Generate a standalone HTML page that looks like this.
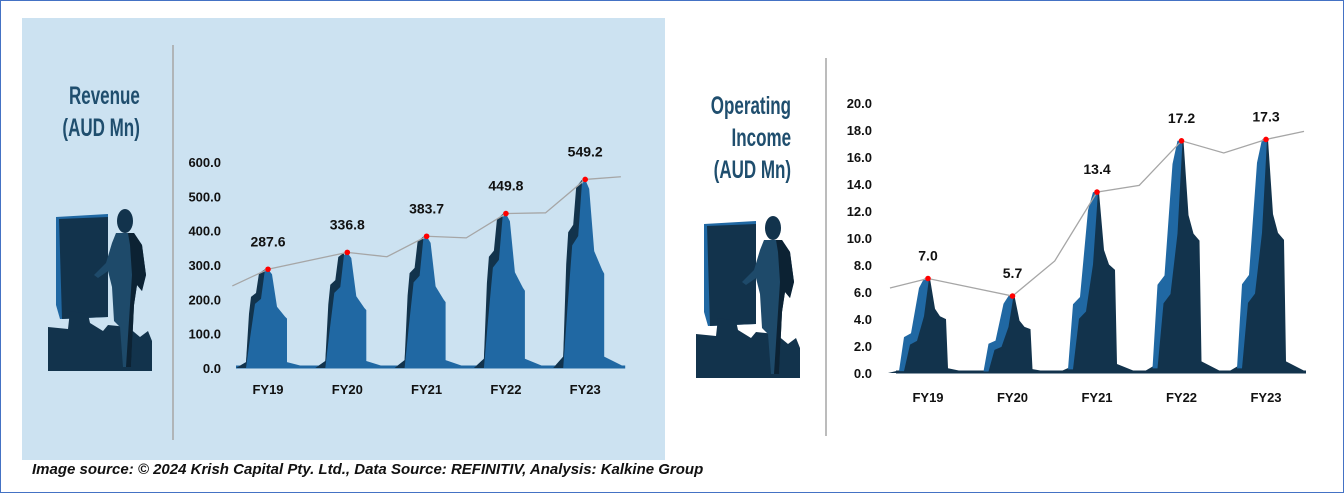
<!DOCTYPE html>
<html><head><meta charset="utf-8">
<style>
html,body{margin:0;padding:0;background:#fff;}
#root{position:relative;width:1344px;height:493px;overflow:hidden;font-family:"Liberation Sans",sans-serif;}
.title{position:absolute;color:#1f4e6e;font-family:"Liberation Sans Narrow","Liberation Sans",sans-serif;font-weight:bold;font-size:25px;line-height:32px;transform:scaleX(0.68);transform-origin:right top;text-align:right;white-space:nowrap;}
#footer{position:absolute;left:32px;top:461px;font-size:15px;font-weight:bold;font-style:italic;color:#111;}
</style></head>
<body>
<div id="root">
<svg width="1344" height="493" style="position:absolute;left:0;top:0">
  <rect x="0.5" y="0.5" width="1343" height="492" fill="#fff" stroke="#4472c4"/>
  <rect x="22" y="18" width="643" height="442" fill="#cce2f1"/>
  <line x1="173" y1="45" x2="173" y2="440" stroke="#a6a6a6" stroke-width="1.5"/>
  <line x1="826" y1="58" x2="826" y2="436" stroke="#a6a6a6" stroke-width="1.5"/>
  <g id="sil1" transform="translate(48,205)"></g>
  <g id="sil2" transform="translate(696,212)"></g>
  <g id="chart1"></g>
  <g id="chart2"></g>
</svg>
<div class="title" style="right:1204px;top:80px;">Revenue<br>(AUD Mn)</div>
<div class="title" style="right:553px;top:90px;">Operating<br>Income<br>(AUD Mn)</div>
<div id="footer">Image source: © 2024 Krish Capital Pty. Ltd., Data Source: REFINITIV, Analysis: Kalkine Group</div>
</div>
<script>
const categories = ["FY19","FY20","FY21","FY22","FY23"];
const revenueValues = [287.6, 336.8, 383.7, 449.8, 549.2];
const revenueTicks = ["0.0","100.0","200.0","300.0","400.0","500.0","600.0"];
const revenueTrendStart = 239;
const revenueTrendMid = [324, 379, 452];
const revenueTrendEnd = 557;
const incomeValues = [7.0, 5.7, 13.4, 17.2, 17.3];
const incomeTicks = ["0.0","2.0","4.0","6.0","8.0","10.0","12.0","14.0","16.0","18.0","20.0"];
const incomeTrendStart = 6.3;
const incomeTrendMid = [8.3, 13.9, 16.3];
const incomeTrendEnd = 17.9;

const NS = "http://www.w3.org/2000/svg";
function mk(parent, tag, attrs){
  const e = document.createElementNS(NS, tag);
  for (const k in attrs) e.setAttribute(k, attrs[k]);
  parent.appendChild(e);
  return e;
}
const LIGHT = "#2068a3", DARK = "#12334c";

function drawChart(g, o){
  const vals = o.values, ticks = o.ticks;
  const maxV = parseFloat(ticks[ticks.length-1]);
  const y = v => o.y0 - (v / maxV) * (o.y0 - o.yTop);
  const x = i => o.x0 + i * o.step;
  ticks.forEach(t => {
    const tl = mk(g, "text", {x: o.tickX, y: y(parseFloat(t)) + 5, "text-anchor": "end", "font-size": 13, "font-weight": "bold", fill: "#111"});
    
    
    tl.textContent = t;
  });
  const baseLine = mk(g, "line", {x1: x(0) - 32, y1: o.y0 - 1, x2: x(vals.length-1) + 40, y2: o.y0 - 1, stroke: o.baseFill, "stroke-width": 3});
  
  
  vals.forEach((v, i) => {
    const c = x(i);
    const pts = s => s.map(p => (c + p[0]) + "," + y(v * p[1])).join(" ");
    const back = mk(g, "polygon", {points: pts(o.backShape), fill: o.backFill});
    
    
    const front = mk(g, "polygon", {points: pts(o.frontShape), fill: o.frontFill});
    
    
    const xl = mk(g, "text", {x: c, y: o.catY, "text-anchor": "middle", "font-size": 13, "font-weight": "bold", fill: "#111"});
    
    
    xl.textContent = categories[i];
  });
  // trend line: start, dots, mid points after FY20, FY21, FY22
  const tp = [[x(0) - o.step * 0.45, y(o.trendStart)]];
  vals.forEach((v, i) => {
    tp.push([x(i), y(v)]);
    const m = i - 1;
    if (m >= 0 && m < o.trendMid.length) tp.push([x(i) + o.step * 0.5, y(o.trendMid[m])]);
  });
  tp.push([x(vals.length-1) + o.step * 0.45, y(o.trendEnd)]);
  const tl = mk(g, "polyline", {points: tp.map(p => p.join(",")).join(" "), fill: "none", stroke: "#a6a6a6", "stroke-width": 1.3});
  
  
  vals.forEach((v, i) => {
    const d = mk(g, "circle", {cx: x(i), cy: y(v), r: 2.8, fill: "#ff0000"});
    
    
    const lb = mk(g, "text", {x: x(i), y: y(v) - o.labelGap, "text-anchor": "middle", "font-size": 14, "font-weight": "bold", fill: "#111"});
    
    
    lb.textContent = v.toFixed(1);
  });
}

drawChart(document.getElementById("chart1"), {
  values: revenueValues, ticks: revenueTicks, trendStart: revenueTrendStart, trendMid: revenueTrendMid, trendEnd: revenueTrendEnd,
  x0: 268, step: 79.3, y0: 368, yTop: 162, tickX: 221, catY: 394, labelGap: 23,
  backFill: LIGHT, frontFill: DARK, baseFill: LIGHT,
  backShape: [[-32,0],[-22,0.06],[-19,0.4],[-14,0.65],[-7,0.95],[0,1],[4,0.95],[9,0.62],[17,0.52],[19,0.5],[19,0.06],[38,0.01],[38,0]],
  frontShape: [[-32,0],[-22,0.06],[-19,0.55],[-17,0.72],[-12,0.76],[-9,0.96],[-3,1],[-7,0.7],[-13,0.65],[-18,0.3],[-22,0]]
});
drawChart(document.getElementById("chart2"), {
  values: incomeValues, ticks: incomeTicks, trendStart: incomeTrendStart, trendMid: incomeTrendMid, trendEnd: incomeTrendEnd,
  x0: 928, step: 84.5, y0: 373, yTop: 103, tickX: 872, catY: 402, labelGap: 18,
  backFill: DARK, frontFill: LIGHT, baseFill: DARK,
  backShape: [[-40,0],[-28,0.03],[-23,0.3],[-16,0.36],[-8,0.6],[-4,0.95],[2,1],[7,0.68],[12,0.6],[18,0.57],[20,0.05],[38,0.01],[38,0]],
  frontShape: [[-29,0.02],[-24,0.38],[-17,0.42],[-9,0.9],[-4,1],[1,1],[-4,0.6],[-11,0.34],[-18,0.3],[-24,0.02]]
});

function drawSilhouette(g){
  const p1 = mk(g, "polygon", {points: "8,12 60,9 60,112 12,114 8,100", fill: LIGHT});
   
  const p2 = mk(g, "polygon", {points: "11,14 60,12 60,112 14,114", fill: DARK});
   
  const p3 = mk(g, "polygon", {points: "0,122 20,124 22,106 40,109 42,118 55,126 60,120 80,122 92,132 100,126 104,136 104,166 0,166", fill: DARK});
   
  const h = mk(g, "ellipse", {cx: 77, cy: 16, rx: 8, ry: 12, fill: DARK});
   
  const b = mk(g, "polygon", {points: "68,28 86,28 94,40 98,70 94,86 89,80 86,100 83,162 75,162 72,122 66,116 64,82 60,66 50,73 46,70 58,58 64,38", fill: "#1e4a6a"});
   
  const s = mk(g, "polygon", {points: "80,28 86,28 94,40 98,70 94,86 89,80 86,100 83,162 78,162 82,100 84,70 82,40", fill: "#0c2233"});
   
}
drawSilhouette(document.getElementById("sil1"));
drawSilhouette(document.getElementById("sil2"));
</script>
</body></html>
